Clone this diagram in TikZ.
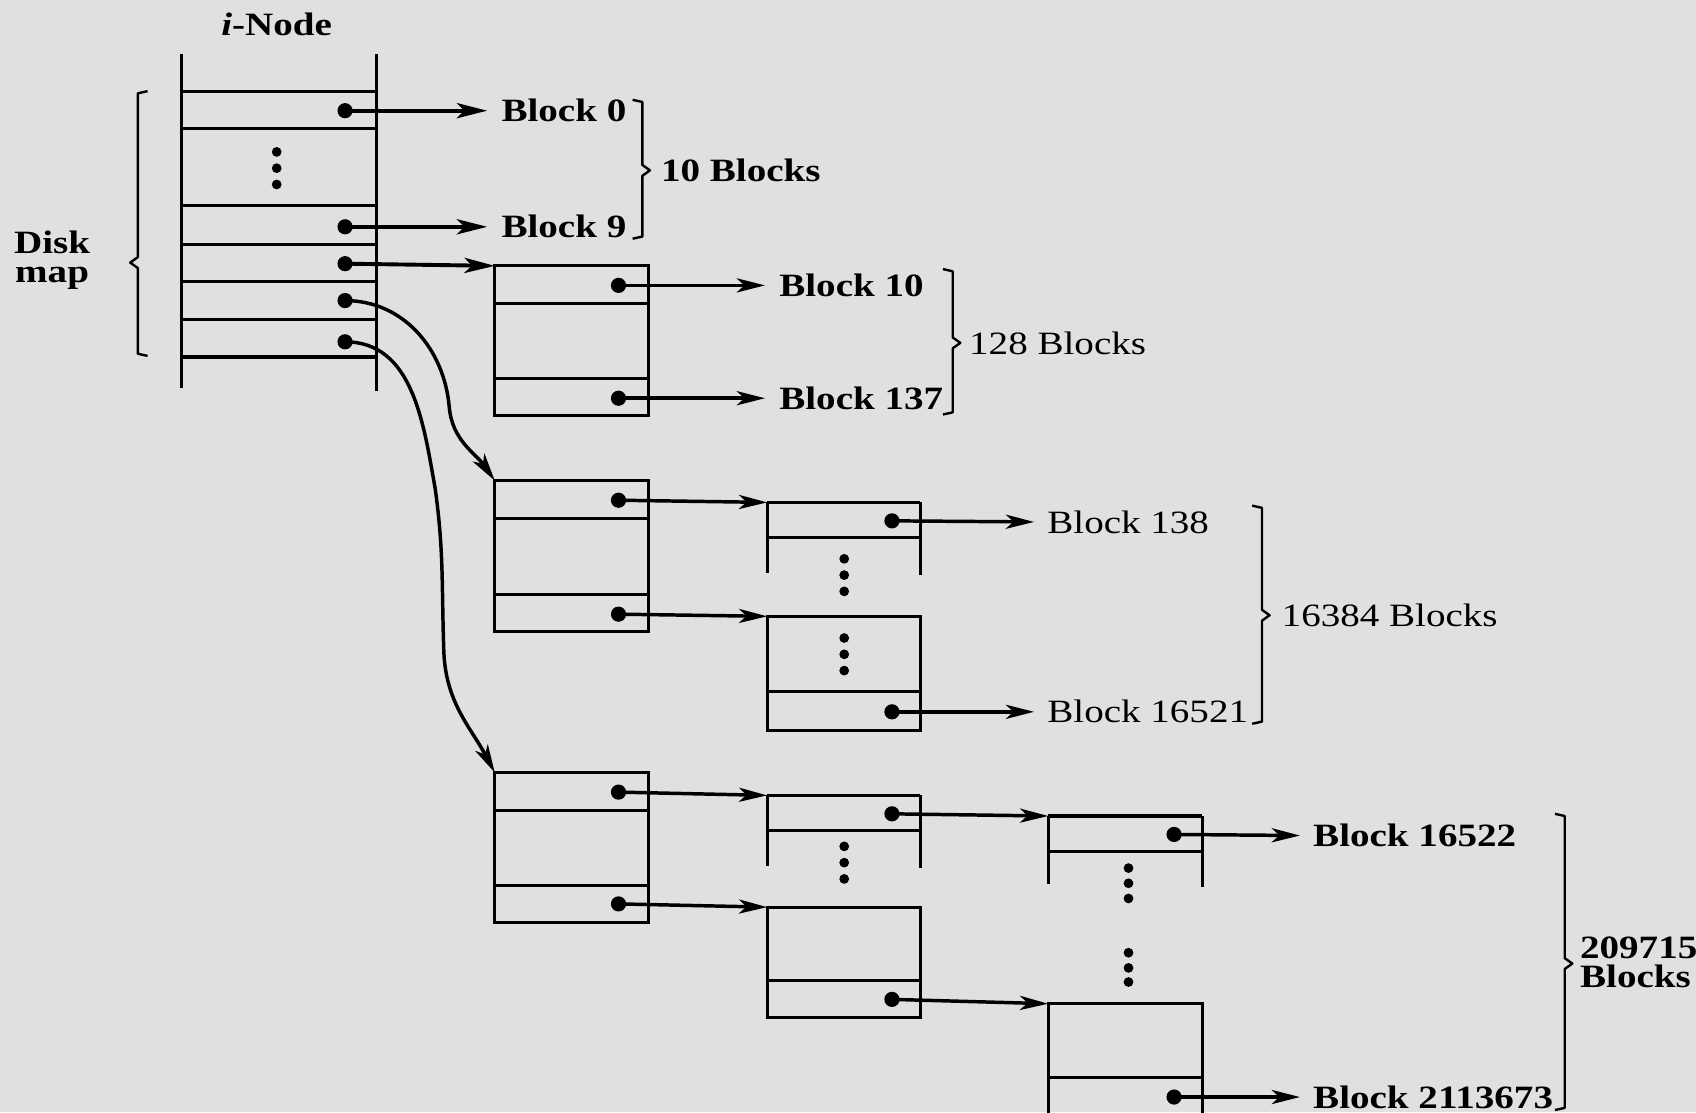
\documentclass[tikz,border=0pt]{standalone}
\usepackage{fontspec}
\setmainfont{Liberation Serif}[FakeStretch=1.2]
\usetikzlibrary{arrows.meta}
\tikzset{
  ln/.style={line width=2.8pt},
  ptr/.style={line width=3.2pt,-{Stealth[length=26pt,width=13pt,inset=7pt]}},
  bigptr/.style={line width=3.6pt,-{Stealth[length=28pt,width=14pt,inset=7pt]}},
  lbl/.style={anchor=west,inner sep=0pt,font=\fontsize{30}{30}\selectfont},
  blbl/.style={anchor=west,inner sep=0pt,font=\fontsize{30}{30}\selectfont\bfseries},
  brc/.style={line width=2.2pt,line join=round},
  box/.style={draw,line width=2.8pt,anchor=north west,inner sep=0pt,outer sep=0pt},
}
\newcommand\myrbr[4]{%
  \draw[brc] ({#1-9},{#2}) -- ({#1},{#2+2}) -- ({#1},{#4-5}) -- ({#1+7},{#4}) -- ({#1},{#4+5}) -- ({#1},{#3-2}) -- ({#1-9},{#3});}
\newcommand\mylbr[4]{%
  \draw[brc] ({#1+9},{#2}) -- ({#1},{#2+2}) -- ({#1},{#4-5}) -- ({#1-7},{#4}) -- ({#1},{#4+5}) -- ({#1},{#3-2}) -- ({#1+9},{#3});}
\begin{document}
\begin{tikzpicture}[x=1pt,y=-1pt]
\useasboundingbox (0,0) rectangle (1563,1025);
\clip (0,0) rectangle (1563,1025);
\fill[black!12] (0,0) rectangle (1563,1025);

% ---------- i-Node ----------
\node[font=\fontsize{30}{30}\selectfont\bfseries,inner sep=0pt] (inodelbl) at (255,22) {\textit{i}-Node};
\draw[ln] (167,50) -- (167,358);
\draw[ln] (347,50) -- (347,360);
\foreach \yy in {84,118,189,225,259,294,329} \draw[ln] (167,\yy) -- (347,\yy);
\foreach \yy in {140,155,170} \fill (255,\yy) circle (4.5pt);

\coordinate (i1) at (318,102);
\coordinate (i9) at (318,209);
\coordinate (is) at (318,243);
\coordinate (id) at (318,277);
\coordinate (it) at (318,315);
\foreach \c in {i1,i9,is,id,it} \fill (\c) circle (7pt);

\node[blbl] (blk0) at (462,102) {Block 0};
\node[blbl] (blk9) at (462,209) {Block 9};
\draw[bigptr] (i1) -- ([xshift=-13pt]blk0.west);
\draw[bigptr] (i9) -- ([xshift=-13pt]blk9.west);
\myrbr{592}{92}{220}{157}
\node[blbl] (ten) at (609,157) {10 Blocks};

\node[font=\fontsize{30}{27}\selectfont\bfseries,align=center,inner sep=0pt] (disk) at (48,240) {Disk\\map};
\mylbr{127}{84}{328}{242}

% ---------- single indirect ----------
\node[box,minimum width=142pt,minimum height=138pt] (b1) at (456,245) {};
\draw[ln] (456,280) -- (598,280);
\draw[ln] (456,349) -- (598,349);
\draw[bigptr] (is) -- (b1.north west);
\coordinate (s1) at (570,263);
\coordinate (s2) at (570,367);
\fill (s1) circle (7pt); \fill (s2) circle (7pt);
\node[blbl] (blk10) at (718,263) {Block 10};
\node[blbl] (blk137) at (718,367) {Block 137};
\draw[ptr] (s1) -- ([xshift=-13pt]blk10.west);
\draw[ptr] (s2) -- ([xshift=-13pt]blk137.west);
\myrbr{878}{248}{382}{316}
\node[lbl] (n128) at (893,316) {128 Blocks};

% ---------- double indirect ----------
\node[box,minimum width=142pt,minimum height=139pt] (b2) at (456,443) {};
\draw[ln] (456,478) -- (598,478);
\draw[ln] (456,548) -- (598,548);
\coordinate (dm) at (414,375);
\draw[ptr] (id) to[out=0,in=95] (dm) to[out=-85,in=125] (b2.north west);

\coordinate (d1) at (570,461);
\coordinate (d2) at (570,566);
\fill (d1) circle (7pt); \fill (d2) circle (7pt);

% partial box 2a
\coordinate (b2a) at (707,463);
\draw[ln] (707,463) -- (848,463);
\draw[ln] (707,463) -- (707,528);
\draw[ln] (848,463) -- (848,530);
\draw[ln] (707,495) -- (848,495);
\foreach \yy in {515,530,545} \fill (778,\yy) circle (4.5pt);
\coordinate (d2a) at (822,480);
\fill (d2a) circle (7pt);

% box 2b
\node[box,minimum width=141pt,minimum height=105pt] (b2b) at (707,568) {};
\draw[ln] (707,637) -- (848,637);
\foreach \yy in {588,603,618} \fill (778,\yy) circle (4.5pt);
\coordinate (d2b) at (822,656);
\fill (d2b) circle (7pt);

\draw[ptr] (d1) -- (b2a);
\draw[ptr] (d2) -- (b2b.north west);

\node[lbl] (blk138) at (965,481) {Block 138};
\node[lbl] (blk16521) at (965,656) {Block 16521};
\draw[ptr] (d2a) -- ([xshift=-12pt]blk138.west);
\draw[ptr] (d2b) -- ([xshift=-12pt]blk16521.west);
\myrbr{1163}{466}{667}{567}
\node[lbl] (n16384) at (1181,567) {16384 Blocks};

% ---------- triple indirect ----------
\node[box,minimum width=142pt,minimum height=138pt] (b3) at (456,712) {};
\draw[ln] (456,747) -- (598,747);
\draw[ln] (456,816) -- (598,816);
\coordinate (tm1) at (401,450);
\coordinate (tm2) at (409,600);
\draw[ptr] (it) to[out=0,in=100] (tm1) to[out=-82,in=92] (tm2) to[out=-88,in=118] (b3.north west);

\coordinate (t1) at (570,730);
\coordinate (t2) at (570,833);
\fill (t1) circle (7pt); \fill (t2) circle (7pt);

% partial box 3a
\coordinate (b3a) at (707,733);
\draw[ln] (707,733) -- (848,733);
\draw[ln] (707,733) -- (707,798);
\draw[ln] (848,733) -- (848,800);
\draw[ln] (707,765) -- (848,765);
\foreach \yy in {780,795,810} \fill (778,\yy) circle (4.5pt);
\coordinate (t3a) at (822,750);
\fill (t3a) circle (7pt);

% box 3b
\node[box,minimum width=141pt,minimum height=102pt] (b3b) at (707,836) {};
\draw[ln] (707,904) -- (848,904);
\coordinate (t3b) at (822,921);
\fill (t3b) circle (7pt);

\draw[ptr] (t1) -- (b3a);
\draw[ptr] (t2) -- (b3b.north west);

% partial box 3c
\coordinate (b3c) at (966,752);
\draw[ln] (966,752) -- (1108,752);
\draw[ln] (966,752) -- (966,815);
\draw[ln] (1108,752) -- (1108,817);
\draw[ln] (966,785) -- (1108,785);
\foreach \yy in {800,814,828,878,892,905} \fill (1040,\yy) circle (4.5pt);
\coordinate (t3c) at (1082,769);
\fill (t3c) circle (7pt);

% box 3d (runs off the bottom)
\coordinate (b3d) at (966,925);
\draw[ln] (966,1040) -- (966,925) -- (1108,925) -- (1108,1040);
\draw[ln] (966,993) -- (1108,993);
\coordinate (t3d) at (1082,1011);
\fill (t3d) circle (7pt);

\draw[ptr] (t3a) -- (b3c);
\draw[ptr] (t3b) -- (b3d);

\node[blbl] (blk16522) at (1210,770) {Block 16522};
\node[blbl] (blk2113673) at (1210,1011) {Block 2113673};
\draw[ptr] (t3c) -- ([xshift=-12pt]blk16522.west);
\draw[ptr] (t3d) -- ([xshift=-12pt]blk2113673.west);
\myrbr{1442}{750}{1023}{888}
\node[font=\fontsize{30}{27}\selectfont\bfseries,align=left,anchor=west,inner sep=0pt] (n2m) at (1456,887) {2097152\\Blocks};
\end{tikzpicture}
\end{document}
